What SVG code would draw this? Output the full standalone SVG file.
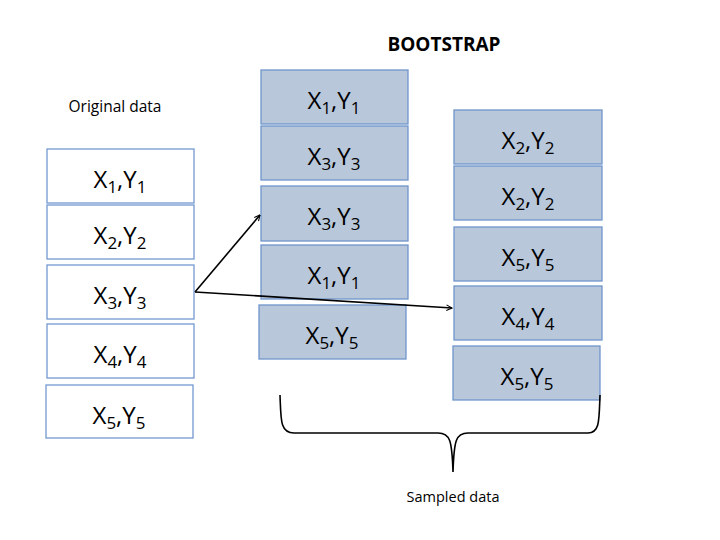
<svg xmlns="http://www.w3.org/2000/svg" width="720" height="540" viewBox="0 0 720 540">
<style>
.w{fill:#ffffff;stroke:#7399cf;stroke-width:1.3}
.b{fill:#b8c7da;stroke:#6f96cb;stroke-width:1.3}
.l{font-family:"Open Sans",sans-serif;font-size:24px;fill:#000;text-anchor:middle}
.s{font-size:17px}
.t{font-family:"Open Sans",sans-serif;fill:#000;text-anchor:middle}
.h{font-family:"Open Sans",sans-serif;font-size:19px;font-weight:bold;fill:#000;text-anchor:middle}
.c{fill:none;stroke:#000;stroke-width:1.6}
</style>
<defs>
<marker id="ah" viewBox="0 0 10 10" refX="9" refY="5" markerWidth="7" markerHeight="7" orient="auto" markerUnits="userSpaceOnUse" >
<path d="M1,1 L9,5 L1,9" fill="none" stroke="#000" stroke-width="1.5"/>
</marker>
</defs>
<rect width="720" height="540" fill="#fff"/>
<text class="h" x="444" y="51">BOOTSTRAP</text>
<text class="t" x="115" y="112" font-size="15.5">Original data</text>
<text class="t" x="453" y="502" font-size="14.5">Sampled data</text>

<g id="o1"><rect class="w" x="47" y="149" width="147" height="54"/><text class="l" x="120" y="188">X<tspan class="s" dy="5">1</tspan><tspan dy="-5">,Y</tspan><tspan class="s" dy="5">1</tspan></text></g>
<g id="o2"><rect class="w" x="47" y="205" width="147" height="54"/><text class="l" x="120" y="244">X<tspan class="s" dy="5">2</tspan><tspan dy="-5">,Y</tspan><tspan class="s" dy="5">2</tspan></text></g>
<g id="o3"><rect class="w" x="47" y="265" width="147" height="54"/><text class="l" x="120" y="304">X<tspan class="s" dy="5">3</tspan><tspan dy="-5">,Y</tspan><tspan class="s" dy="5">3</tspan></text></g>
<g id="o4"><rect class="w" x="47" y="324" width="147" height="54"/><text class="l" x="120" y="363">X<tspan class="s" dy="5">4</tspan><tspan dy="-5">,Y</tspan><tspan class="s" dy="5">4</tspan></text></g>
<g id="o5"><rect class="w" x="46" y="385" width="147" height="53"/><text class="l" x="119" y="424">X<tspan class="s" dy="5">5</tspan><tspan dy="-5">,Y</tspan><tspan class="s" dy="5">5</tspan></text></g>

<g id="a1"><rect class="b" x="261" y="70" width="147" height="54"/><text class="l" x="334" y="109">X<tspan class="s" dy="5">1</tspan><tspan dy="-5">,Y</tspan><tspan class="s" dy="5">1</tspan></text></g>
<g id="a2"><rect class="b" x="261" y="126" width="147" height="54"/><text class="l" x="334" y="165">X<tspan class="s" dy="5">3</tspan><tspan dy="-5">,Y</tspan><tspan class="s" dy="5">3</tspan></text></g>
<g id="a3"><rect class="b" x="261" y="186" width="147" height="55"/><text class="l" x="334" y="225">X<tspan class="s" dy="5">3</tspan><tspan dy="-5">,Y</tspan><tspan class="s" dy="5">3</tspan></text></g>
<g id="a4"><rect class="b" x="261" y="245" width="147" height="54"/><text class="l" x="334" y="284">X<tspan class="s" dy="5">1</tspan><tspan dy="-5">,Y</tspan><tspan class="s" dy="5">1</tspan></text></g>
<g id="a5"><rect class="b" x="259" y="305" width="147" height="54"/><text class="l" x="332" y="344">X<tspan class="s" dy="5">5</tspan><tspan dy="-5">,Y</tspan><tspan class="s" dy="5">5</tspan></text></g>

<g id="b1"><rect class="b" x="454" y="110" width="148" height="54"/><text class="l" x="528" y="149">X<tspan class="s" dy="5">2</tspan><tspan dy="-5">,Y</tspan><tspan class="s" dy="5">2</tspan></text></g>
<g id="b2"><rect class="b" x="454" y="166" width="148" height="54"/><text class="l" x="528" y="205">X<tspan class="s" dy="5">2</tspan><tspan dy="-5">,Y</tspan><tspan class="s" dy="5">2</tspan></text></g>
<g id="b3"><rect class="b" x="454" y="227" width="148" height="54"/><text class="l" x="528" y="266">X<tspan class="s" dy="5">5</tspan><tspan dy="-5">,Y</tspan><tspan class="s" dy="5">5</tspan></text></g>
<g id="b4"><rect class="b" x="454" y="286" width="148" height="54"/><text class="l" x="528" y="325">X<tspan class="s" dy="5">4</tspan><tspan dy="-5">,Y</tspan><tspan class="s" dy="5">4</tspan></text></g>
<g id="b5"><rect class="b" x="453" y="346" width="147" height="54"/><text class="l" x="527" y="385">X<tspan class="s" dy="5">5</tspan><tspan dy="-5">,Y</tspan><tspan class="s" dy="5">5</tspan></text></g>

<g id="connectors">
<line class="c" x1="195" y1="292" x2="260" y2="215" marker-end="url(#ah)"/>
<line class="c" x1="195" y1="292" x2="452" y2="308" marker-end="url(#ah)"/>
<path class="c" d="M280,395 C281,420 280,433 294,433 L438,433 C450,433 452,440 453,472 C454,440 456,433 468,433 L588,433 C600,433 599,420 600,395"/>
</g>
</svg>
